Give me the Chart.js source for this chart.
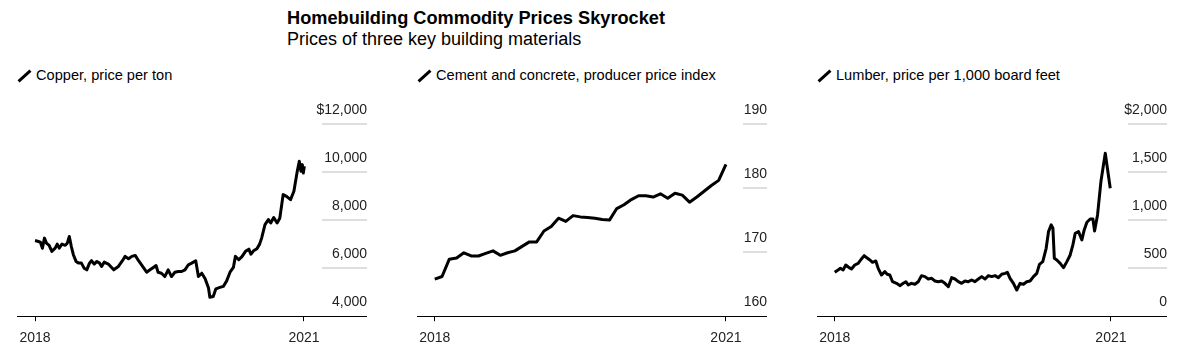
<!DOCTYPE html>
<html>
<head>
<meta charset="utf-8">
<script src="https://cdn.jsdelivr.net/npm/chart.js@4.4.1/dist/chart.umd.min.js"></script>
<style>
  body { margin: 0; width: 1198px; height: 352px; background: #fff; position: relative; overflow: hidden;
         font-family: "Liberation Sans", Arial, sans-serif; color: #000; }
  #title { position: absolute; left: 287px; top: 7px; font-size: 18.2px; font-weight: bold; line-height: 22px; white-space: nowrap; }
  #subtitle { position: absolute; left: 287px; top: 28px; font-size: 18px; line-height: 22px; white-space: nowrap; }
  .legend { position: absolute; top: 66px; font-size: 14.6px; line-height: 18px; white-space: nowrap; }
  .icon { position: absolute; top: 68px; width: 3px; height: 16px; background: #000; transform: rotate(48deg); }
  .panel { position: absolute; top: 97px; width: 350px; height: 259px; }
</style>
</head>
<body>
<div id="title">Homebuilding Commodity Prices Skyrocket</div>
<div id="subtitle">Prices of three key building materials</div>

<span class="icon" style="left:23px"></span>
<div class="legend" style="left:36px">Copper, price per ton</div>
<span class="icon" style="left:423px"></span>
<div class="legend" style="left:436px">Cement and concrete, producer price index</div>
<span class="icon" style="left:823px"></span>
<div class="legend" style="left:836px">Lumber, price per 1,000 board feet</div>

<div class="panel" style="left:17px"><canvas id="copperChart"></canvas></div>
<div class="panel" style="left:417px"><canvas id="cementChart"></canvas></div>
<div class="panel" style="left:817px"><canvas id="lumberChart"></canvas></div>

<script>
// months since Jan 2018
const copperMonths = [0, 0.5, 0.8, 1.1, 1.4, 1.7, 2.1, 2.5, 3.0, 3.3, 3.6, 4.0, 4.5, 4.8, 5.1, 5.4, 5.7, 6.1, 6.5, 6.9,
  7.3, 7.7, 8.1, 8.4, 8.8, 9.2, 9.6, 9.9, 10.3, 10.9, 11.7, 12.4, 13.0, 13.4, 13.9, 14.4, 14.9, 15.4, 16.0, 16.6,
  17.1, 17.6, 18.0, 18.3, 18.8, 19.3, 19.8, 20.3, 20.8, 21.3, 21.8, 22.3, 22.8, 23.3, 23.9, 24.3, 24.8, 25.3, 25.8, 26.0,
  26.5, 26.9, 27.5, 28.0, 28.5, 29.0, 29.5, 29.8, 30.3, 30.8, 31.3, 31.8, 32.1, 32.5, 33.0, 33.4, 33.7, 34.2, 34.7, 35.05,
  35.5, 36.0, 36.4, 36.9, 37.4, 38.0, 38.5, 39.0, 39.3, 39.55, 39.75, 39.9, 40.05];
const copperPrices = [7150, 7110, 7080, 6830, 7250, 7040, 6950, 6700, 6830, 7000, 6830, 7000, 6950, 7040, 7320, 6900, 6560, 6280, 6210, 6210,
  6000, 5930, 6210, 6310, 6170, 6280, 6210, 6070, 6250, 6170, 5930, 6070, 6310, 6490, 6390, 6490, 6530, 6310, 6070, 5830,
  5930, 6030, 6110, 5830, 5790, 5650, 5930, 5650, 5830, 5860, 5860, 5930, 6140, 6210, 6310, 5650, 5790, 5560, 5170, 4790,
  4820, 5140, 5200, 5240, 5470, 5830, 6030, 6490, 6350, 6490, 6700, 6790, 6580, 6720, 6810, 7000, 7250, 7810, 8020, 7880,
  8110, 7880, 8080, 9060, 8990, 8850, 9200, 10030, 10450, 10030, 10310, 9960, 10240];

const cementMonths = [0, 1, 2, 3, 4, 5, 6, 7, 8, 9, 10, 11, 12, 13, 14, 15, 16, 17, 18, 19, 20,
  21, 22, 23, 24, 25, 26, 27, 28, 29, 30, 31, 32, 33, 34, 35, 36, 37, 38, 39, 40];
const cementIndex = [165.8, 166.2, 168.9, 169.1, 169.9, 169.4, 169.4, 169.8, 170.2, 169.5, 169.9, 170.2, 170.9, 171.6, 171.6, 173.3, 174.0, 175.3, 174.8, 175.7, 175.5,
  175.4, 175.3, 175.1, 175.0, 176.8, 177.4, 178.2, 178.8, 178.8, 178.6, 179.1, 178.4, 179.2, 178.9, 177.8, 178.6, 179.5, 180.4, 181.2, 183.7];

const lumberMonths = [0, 0.48, 0.82, 1.21, 1.6, 2.08, 2.42, 2.9, 3.39, 3.87, 4.26, 4.6, 5.08, 5.47, 5.95, 6.29, 6.77, 7.26, 7.59, 7.98,
  8.37, 8.95, 9.43, 9.92, 10.3, 10.64, 11.12, 11.61, 12.09, 12.57, 13.06, 13.54, 14.03, 14.51, 15.0, 15.48, 15.96, 16.45, 16.93, 17.41,
  17.9, 18.38, 18.86, 19.35, 19.83, 20.31, 20.8, 21.28, 21.77, 22.25, 22.73, 23.22, 23.7, 24.18, 24.67, 25.0, 25.39, 25.88, 26.36, 26.84,
  27.33, 27.81, 28.29, 28.78, 29.26, 29.65, 30.13, 30.62, 30.96, 31.35, 31.6, 31.8, 32.16, 32.65, 33.13, 33.62, 34.1, 34.49, 34.83, 35.31,
  35.79, 36.13, 36.52, 37.0, 37.39, 37.63, 38.06, 38.55, 39.18, 39.9];
const lumberPrices = [457, 481, 498, 481, 533, 505, 491, 533, 550, 596, 630, 610, 585, 561, 575, 498, 429, 464, 436, 429,
  359, 342, 318, 342, 359, 325, 342, 332, 359, 422, 412, 387, 394, 366, 359, 366, 342, 307, 401, 387,
  359, 342, 366, 359, 377, 359, 387, 412, 387, 422, 412, 422, 401, 436, 446, 457, 394, 342, 273, 342,
  332, 359, 366, 412, 446, 540, 568, 707, 880, 950, 915, 603, 585, 550, 505, 568, 637, 742, 863, 880,
  794, 898, 978, 1012, 1012, 887, 1054, 1401, 1696, 1332];

const xTickMonths = [0, 40];
const xTickLabels = ['2018', '2021'];

const copperTicks = [4000, 6000, 8000, 10000, 12000];
const copperTickLabels = ['4,000', '6,000', '8,000', '10,000', '$12,000'];
const cementTicks = [160, 170, 180, 190];
const cementTickLabels = ['160', '170', '180', '190'];
const lumberTicks = [0, 500, 1000, 1500, 2000];
const lumberTickLabels = ['0', '500', '1,000', '1,500', '$2,000'];

Chart.defaults.font.family = '"Liberation Sans", Arial, sans-serif';
Chart.defaults.font.size = 14;
Chart.defaults.color = '#222';

// short grey rules under the value labels
const gridSegments = {
    id: 'gridSegments',
    beforeDatasetsDraw(chart, args, opts) {
        const { ctx, chartArea, scales } = chart;
        const y = scales.y;
        ctx.save();
        ctx.strokeStyle = '#dedede';
        ctx.lineWidth = 2;
        y.ticks.forEach((t, i) => {
            if (i === 0) return;
            const py = Math.round(y.getPixelForValue(t.value));
            ctx.beginPath();
            ctx.moveTo(chartArea.right - opts.width, py);
            ctx.lineTo(chartArea.right, py);
            ctx.stroke();
        });
        ctx.restore();
    }
};

function makeChart(id, months, values, yTicks, yLabels, xMin, xMax, segWidth) {
    const ctx = document.getElementById(id);
    new Chart(ctx, {
        type: 'line',
        data: {
            datasets: [{
                data: months.map((m, i) => ({ x: m, y: values[i] })),
                borderColor: '#000',
                borderWidth: 3,
                pointRadius: 0,
                tension: 0,
                borderJoinStyle: 'round'
            }]
        },
        options: {
            animation: false,
            responsive: true,
            maintainAspectRatio: false,
            events: [],
            layout: { padding: { top: 27, left: 0, right: 0, bottom: 0 } },
            plugins: {
                legend: { display: false },
                tooltip: { enabled: false },
                gridSegments: { width: segWidth }
            },
            scales: {
                x: {
                    type: 'linear',
                    min: xMin,
                    max: xMax,
                    afterBuildTicks: s => { s.ticks = xTickMonths.map(v => ({ value: v })); },
                    grid: { drawOnChartArea: false, drawTicks: true, tickLength: 5, color: '#000', lineWidth: 1 },
                    border: { display: true, color: '#000', width: 1 },
                    ticks: {
                        padding: 2, autoSkip: false, maxRotation: 0,
                        font: { size: 14, lineHeight: 2.2 },
                        callback: (v, i) => xTickLabels[i]
                    }
                },
                y: {
                    type: 'linear',
                    position: 'right',
                    min: yTicks[0],
                    max: yTicks[yTicks.length - 1],
                    afterBuildTicks: s => { s.ticks = yTicks.map(v => ({ value: v })); },
                    grid: { display: false, drawTicks: false },
                    border: { display: false },
                    ticks: {
                        mirror: true, padding: 0, labelOffset: -14, autoSkip: false,
                        callback: (v, i) => yLabels[i]
                    }
                }
            }
        },
        plugins: [gridSegments]
    });
}

makeChart('copperChart', copperMonths, copperPrices, copperTicks, copperTickLabels, -2.68, 49.37, 45);
makeChart('cementChart', cementMonths, cementIndex, cementTicks, cementTickLabels, -2.44, 45.64, 24);
makeChart('lumberChart', lumberMonths, lumberPrices, lumberTicks, lumberTickLabels, -2.57, 48.12, 39);
</script>
</body>
</html>
